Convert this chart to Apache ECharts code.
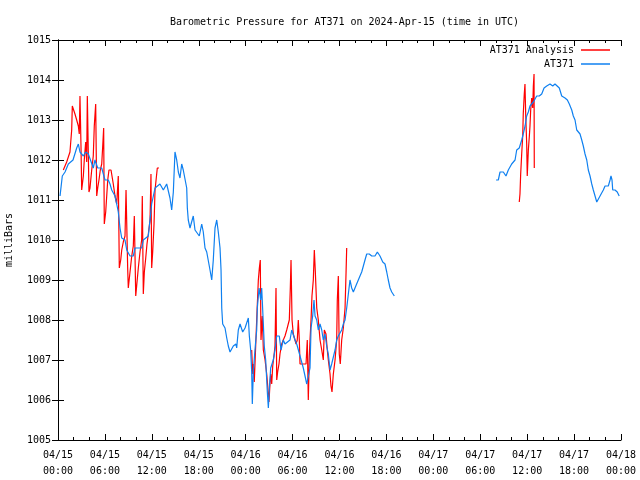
<!DOCTYPE html>
<html>
<head>
<meta charset="utf-8">
<script src="https://cdn.jsdelivr.net/npm/echarts@6/dist/echarts.min.js"></script>
<style>html,body{margin:0;padding:0;background:#fff}#c{width:640px;height:480px}</style>
</head>
<body>
<div id="c"></div>
<script>
// Hours since 2024-04-15 00:00 UTC
var xTickLabels = ["04/15\n00:00","04/15\n06:00","04/15\n12:00","04/15\n18:00","04/16\n00:00","04/16\n06:00","04/16\n12:00","04/16\n18:00","04/17\n00:00","04/17\n06:00","04/17\n12:00","04/17\n18:00","04/18\n00:00"];

var stationHours = [0.26,0.55,0.9,1.32,1.92,2.39,2.6,2.81,3.24,3.54,3.88,4.09,4.51,4.73,5.08,5.59,6.01,6.43,6.65,6.87,7.29,7.51,7.71,7.93,8.15,8.57,8.79,9.21,9.63,9.85,10.7,10.91,11.55,11.98,12.41,13.04,13.47,13.9,14.32,14.54,14.75,14.96,15.18,15.39,15.6,15.82,16.02,16.24,16.46,16.54,16.66,16.88,17.1,17.3,17.52,17.74,18.07,18.38,18.58,18.8,19.02,19.22,19.44,19.66,19.86,20.08,20.3,20.5,20.72,20.85,20.94,21.06,21.36,21.58,21.78,22.0,22.42,22.76,22.85,23.06,23.28,23.62,23.92,24.34,24.47,24.64,24.77,24.85,24.98,25.19,25.41,25.49,25.71,25.92,26.05,26.26,26.38,26.56,26.77,26.9,27.02,27.2,27.53,27.75,27.97,28.3,28.52,28.81,29.03,29.25,29.67,29.89,30.31,30.53,30.73,30.95,31.17,31.37,31.59,31.81,32.01,32.23,32.36,32.57,32.74,32.87,33.09,33.29,33.51,33.73,33.93,34.15,34.36,34.57,34.79,35.0,35.21,35.43,35.64,35.85,36.07,36.28,36.49,36.71,36.92,37.13,37.34,37.56,37.77,37.98,38.2,38.62,38.84,39.05,39.26,39.48,39.81,40.12,40.32,40.54,40.84,41.18,41.53,41.82,42.04,42.24,42.46,42.68,42.88,43.01,
  50.0,
  56.02,56.31,56.53,56.95,57.29,57.59,58.02,58.45,58.66,58.99,59.17,59.3,59.5,59.73,59.94,60.15,60.36,60.58,60.79,61.0,61.22,61.55,61.86,62.16,62.5,62.92,63.27,63.56,63.78,64.11,64.42,64.62,64.84,65.14,65.39,65.7,65.9,66.12,66.34,66.54,66.76,66.98,67.18,67.4,67.62,67.82,68.04,68.26,68.46,68.68,68.9,69.1,69.32,69.53,69.74,69.96,70.17,70.38,70.6,70.72,70.85,70.94,71.23,71.52,71.77,71.86];
var stationValues = [1011.1,1011.6,1011.7,1011.9,1012.0,1012.3,1012.4,1012.2,1012.1,1012.2,1012.15,1012.1,1011.8,1012.0,1011.8,1011.8,1011.5,1011.5,1011.4,1011.25,1011.1,1010.9,1010.7,1010.3,1010.05,1010.0,1009.75,1009.6,1009.6,1009.8,1009.8,1010.0,1010.1,1010.9,1011.3,1011.4,1011.25,1011.4,1011.05,1010.75,1011.2,1012.2,1012.0,1011.7,1011.55,1011.9,1011.75,1011.7,1011.3,1010.8,1010.5,1010.3,1010.25,1010.6,1010.25,1010.2,1010.1,1010.4,1010.2,1009.8,1009.7,1009.65,1009.25,1009.0,1009.5,1010.3,1010.5,1010.2,1009.8,1009.25,1008.3,1007.9,1007.8,1007.55,1007.35,1007.2,1007.35,1007.4,1007.3,1007.75,1007.9,1007.7,1007.8,1008.05,1007.6,1007.25,1006.7,1005.9,1006.7,1007.25,1007.75,1008.3,1008.8,1008.5,1008.8,1007.9,1007.35,1007.0,1006.2,1005.8,1006.25,1006.8,1007.0,1007.25,1007.6,1007.6,1007.25,1007.5,1007.4,1007.35,1007.5,1007.75,1007.5,1007.4,1007.35,1007.1,1007.05,1006.8,1006.75,1006.4,1006.4,1006.8,1007.8,1008.1,1008.5,1008.1,1008.0,1007.75,1007.9,1007.75,1007.5,1007.65,1007.35,1007.15,1006.75,1006.9,1006.95,1007.25,1007.5,1007.6,1007.65,1007.75,1007.9,1008.0,1008.3,1008.65,1009.0,1008.8,1008.7,1008.8,1008.8,1009.1,1009.2,1009.35,1009.5,1009.65,1009.65,1009.6,1009.65,1009.6,1009.7,1009.6,1009.45,1009.4,1009.2,1009.0,1008.8,1008.7,1008.65,1008.6,
  null,
  1011.5,1011.5,1011.7,1011.7,1011.6,1011.75,1011.9,1012.0,1012.25,1012.3,1012.25,1012.5,1012.65,1012.85,1013.1,1013.2,1013.35,1013.4,1013.45,1013.5,1013.6,1013.6,1013.65,1013.8,1013.85,1013.9,1013.85,1013.9,1013.85,1013.8,1013.6,1013.65,1013.55,1013.5,1013.4,1013.25,1013.1,1013.0,1012.75,1012.8,1012.65,1012.5,1012.35,1012.15,1012.0,1011.75,1011.6,1011.4,1011.25,1011.1,1010.95,1011.0,1011.1,1011.15,1011.25,1011.35,1011.4,1011.35,1011.5,1011.6,1011.5,1011.25,1011.25,1011.2,1011.1,1011.1];

var analysisHours = [0.68,1.11,1.53,1.75,1.83,1.96,2.17,2.39,2.6,2.72,2.81,2.94,3.03,3.24,3.36,3.54,3.67,3.75,3.88,3.96,4.09,4.31,4.51,4.64,4.82,4.95,5.08,5.24,5.41,5.59,5.72,5.84,5.92,6.1,6.23,6.36,6.52,6.78,6.94,7.07,7.29,7.51,7.71,7.84,8.02,8.15,8.35,8.57,8.7,8.82,8.91,8.99,9.21,9.43,9.63,9.76,9.94,10.06,10.27,10.49,10.7,10.78,10.91,11.04,11.22,11.38,11.55,11.77,11.89,11.98,12.11,12.28,12.41,12.53,12.7,12.92,
  18.0,
  24.77,24.9,24.98,25.1,25.28,25.41,25.62,25.75,25.87,25.96,26.13,26.26,26.48,26.69,26.82,26.98,27.11,27.2,27.33,27.46,27.62,27.75,27.88,27.97,28.09,28.26,28.39,28.61,28.81,29.03,29.25,29.45,29.58,29.71,29.8,29.93,30.09,30.31,30.44,30.6,30.73,30.86,30.95,31.72,31.88,32.01,32.14,32.23,32.36,32.48,32.65,32.78,32.91,33.09,33.29,33.51,33.73,33.93,34.06,34.27,34.44,34.57,34.79,34.91,35.04,35.21,35.43,35.64,35.72,35.85,35.97,36.1,36.28,36.49,36.71,36.84,36.92,
  48.0,
  58.99,59.08,59.17,59.3,59.43,59.5,59.63,59.72,59.81,59.94,60.01,60.15,60.28,60.36,60.45,60.58,60.71,60.79,60.88,60.91];
var analysisValues = [1011.75,1011.95,1012.2,1012.75,1013.35,1013.35,1013.15,1013.0,1012.85,1012.65,1013.6,1012.35,1011.25,1011.6,1012.0,1012.45,1011.95,1013.6,1013.6,1011.2,1011.3,1011.75,1012.1,1012.85,1013.4,1011.1,1011.3,1011.5,1011.75,1011.9,1012.35,1012.8,1010.4,1010.7,1011.1,1011.5,1011.75,1011.75,1011.7,1011.4,1011.1,1010.9,1011.6,1009.3,1009.5,1009.75,1009.95,1010.1,1011.25,1011.2,1009.3,1008.8,1009.2,1009.6,1009.85,1010.6,1008.6,1008.85,1009.3,1009.7,1010.0,1011.1,1008.65,1009.2,1009.55,1009.9,1010.15,1010.5,1011.65,1009.3,1009.7,1010.4,1011.25,1011.3,1011.8,1011.8,
  null,
  1007.25,1006.65,1006.9,1006.45,1007.35,1008.0,1009.0,1009.3,1009.5,1007.5,1008.1,1007.25,1007.0,1006.65,1006.35,1005.95,1006.4,1006.65,1006.4,1006.85,1007.1,1007.35,1008.8,1006.5,1006.7,1006.9,1007.15,1007.4,1007.5,1007.6,1007.75,1007.8,1008.0,1008.8,1009.5,1008.0,1007.65,1007.5,1007.4,1007.5,1008.0,1007.5,1006.9,1006.9,1007.5,1006.0,1007.1,1007.5,1008.0,1008.6,1009.0,1009.75,1009.2,1008.3,1008.0,1007.5,1007.25,1007.0,1007.75,1007.65,1007.25,1007.0,1006.65,1006.35,1006.2,1006.65,1007.0,1007.5,1008.5,1009.1,1007.15,1006.9,1007.5,1007.8,1008.3,1009.2,1009.8,
  null,
  1010.95,1011.15,1011.65,1012.15,1012.6,1013.15,1013.65,1013.9,1013.15,1012.4,1011.6,1012.25,1012.6,1012.85,1013.25,1013.55,1013.3,1013.85,1014.15,1011.8];

function pairs(h, v) { return h.map(function (x, i) { return [x, v[i]]; }); }

var FONT = 'DejaVu Sans Mono';
var chart = echarts.init(document.getElementById('c'), null, {renderer: 'canvas'});
var axisLine = {show: true, lineStyle: {color: '#000', width: 1}};
chart.setOption({
  animation: false,
  backgroundColor: '#fff',
  title: {
    text: 'Barometric Pressure for AT371 on 2024-Apr-15 (time in UTC)',
    left: 339.5, top: 12, textAlign: 'center',
    textStyle: {fontFamily: FONT, fontSize: 10, fontWeight: 'normal', color: '#000'}
  },
  legend: [
    {data: ['AT371 Analysis'], right: 30, top: 45, align: 'right', icon: 'rect', itemWidth: 29, itemHeight: 1.5, itemGap: 0,
     textStyle: {fontFamily: FONT, fontSize: 10, color: '#000', padding: [0, 2, 0, 0]}, padding: 0},
    {data: ['AT371'], right: 30, top: 59, align: 'right', icon: 'rect', itemWidth: 29, itemHeight: 1.5, itemGap: 0,
     textStyle: {fontFamily: FONT, fontSize: 10, color: '#000', padding: [0, 2, 0, 0]}, padding: 0}
  ],
  grid: {left: 58, right: 19, top: 40, bottom: 40, containLabel: false, outerBoundsMode: 'none'},
  xAxis: [
    {type: 'value', min: 0, max: 72, interval: 6, position: 'bottom',
     axisLine: axisLine,
     axisTick: {show: true, inside: true, length: 6, lineStyle: {color: '#000'}},
     minorTick: {show: true, splitNumber: 3, length: 3, lineStyle: {color: '#000'}},
     splitLine: {show: false},
     axisLabel: {fontFamily: FONT, fontSize: 10, color: '#000', lineHeight: 16, margin: 7,
       formatter: function (v) { return xTickLabels[Math.round(v / 6)]; }}},
    {type: 'value', min: 0, max: 72, interval: 6, position: 'top',
     axisLine: axisLine,
     axisTick: {show: true, inside: true, length: 6, lineStyle: {color: '#000'}},
     minorTick: {show: true, splitNumber: 3, length: 3, lineStyle: {color: '#000'}},
     splitLine: {show: false}, axisLabel: {show: false}}
  ],
  yAxis: [
    {type: 'value', min: 1005, max: 1015, interval: 1, position: 'left',
     name: 'milliBars', nameLocation: 'middle', nameGap: 44, nameRotate: 90,
     nameTextStyle: {fontFamily: FONT, fontSize: 10, color: '#000'},
     axisLine: axisLine,
     axisTick: {show: true, inside: true, length: 6, lineStyle: {color: '#000'}},
     splitLine: {show: false},
     axisLabel: {fontFamily: FONT, fontSize: 10, color: '#000', margin: 7,
       formatter: function (v) { return String(v); }}},
    {type: 'value', min: 1005, max: 1015, interval: 1, position: 'right',
     axisLine: axisLine,
     axisTick: {show: true, inside: true, length: 6, lineStyle: {color: '#000'}},
     splitLine: {show: false}, axisLabel: {show: false}}
  ],
  series: [
    {name: 'AT371 Analysis', type: 'line', data: pairs(analysisHours, analysisValues),
     showSymbol: false, connectNulls: false, color: '#ff0000',
     lineStyle: {width: 1.2, color: '#ff0000'}, itemStyle: {color: '#ff0000'}},
    {name: 'AT371', type: 'line', data: pairs(stationHours, stationValues),
     showSymbol: false, connectNulls: false, color: '#0f80f0',
     lineStyle: {width: 1.2, color: '#0f80f0'}, itemStyle: {color: '#0f80f0'}}
  ]
});
</script>
</body>
</html>
